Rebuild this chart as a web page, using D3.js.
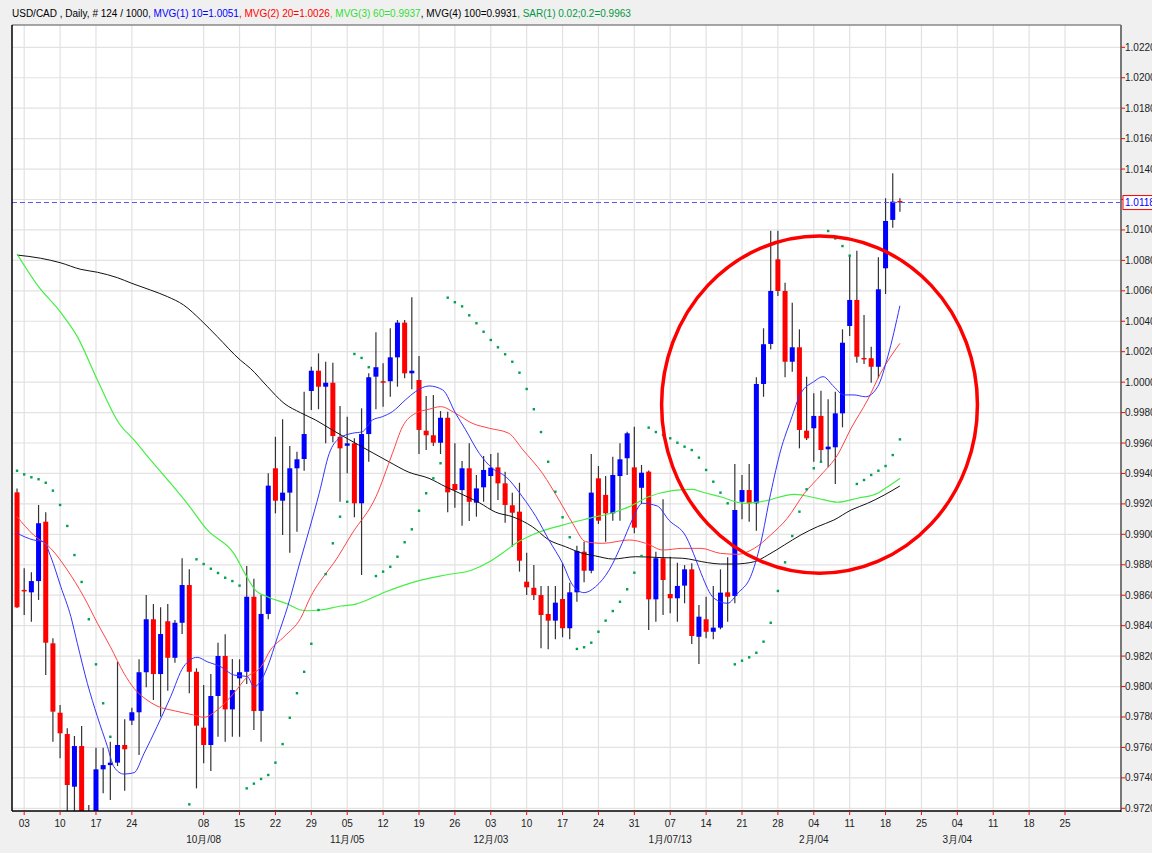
<!DOCTYPE html>
<html>
<head>
<meta charset="utf-8">
<script src="https://cdn.jsdelivr.net/npm/d3@7"></script>
<style>
body { margin: 0; background: #f0f0f0; }
svg { display: block; font-family: Arial, "Liberation Sans", sans-serif; }
</style>
</head>
<body>
<svg id="chart" width="1152" height="853"></svg>
<script>
// USD/CAD daily candles, 31 Aug 2012 .. 20 Feb 2013 (trading days)
const opens = [.99276,.98635,.98619,.98693,.99083,.98284,.97828,.97688,.97342,.97609,
  .9690,.9662,.97456,.97484,.97500,.97616,.97776,.97831,.98094,.98442,
  .98082,.98429,.98189,.98419,.98667,.98097,.97730,.97616,.97938,.98201,
  .97850,.98054,.98097,.98590,.97840,.98477,.99434,.99221,.99274,.99434,
  .99495,.99942,1.00075,.99970,.99996,.99641,.99582,.99598,.99204,.99659,
  1.00036,1.00006,1.00006,1.00163,1.00391,1.00058,1.00014,.99681,.99651,.99602,
  .99766,.99331,.99291,.99434,.99208,.99309,.99383,.99440,.99335,.99191,
  .99149,.98689,.98649,.98601,.98477,.98433,.98575,.98383,.98619,.98886,
  .98761,.99368,.99259,.99138,.99383,.99500,.99440,.99306,.99412,.98573,
  .98843,.98608,.98580,.98663,.98770,.98327,.98442,.98360,.98387,.98619,
  .98595,.99214,.99291,.99204,.99988,1.00251,1.00807,1.00599,1.00134,1.00229,
  .99681,.99697,.99778,.99559,.99572,.99795,1.00369,1.00540,1.00159,1.00157,
  1.00101,1.00748,1.01066,1.0119];
const highs = [.99302,.98777,.98751,.99193,.99145,.98317,.97879,.97726,.97675,.97741,
  .97222,.97598,.97598,.97638,.98163,.97785,.97861,.98179,.98601,.98542,
  .98521,.98542,.98437,.98843,.98770,.98120,.98010,.98082,.98288,.98343,
  .98181,.98179,.98792,.98709,.98601,.99401,.99641,.99756,.99580,.99543,
  .99937,1.00101,1.00189,1.00134,1.00128,.99843,.99773,.99631,.99828,1.00058,
  1.00327,1.00124,1.00354,1.00408,1.00408,1.00557,1.00172,.99909,.99915,.99810,
  .99806,.99598,.99482,.99598,.99390,.99515,.99528,.99536,.99412,.99274,
  .99339,.98879,.98799,.98661,.98661,.98661,.98810,.98682,.98925,.98952,
  .99528,.99449,.99383,.99510,.99598,.99674,.99707,.99456,.99420,.98886,
  .99230,.98853,.98814,.98798,.98810,.98536,.98590,.98661,.98770,.98849,
  .99462,.99390,.99462,1.00032,1.00354,1.00995,1.00995,1.00653,1.00522,1.00347,
  1.00036,.99927,.99944,.99887,.99937,1.00347,1.00835,1.00864,1.00441,1.00233,
  1.00820,1.01208,1.01372,1.01208];
const lows = [.98516,.98470,.98426,.98569,.98076,.97638,.97529,.97180,.97120,.96800,
  .96330,.96500,.97299,.97255,.97478,.97316,.97747,.97550,.97995,.97912,
  .97802,.97973,.98157,.98345,.97956,.97331,.97496,.97445,.97670,.97638,
  .97670,.97670,.98017,.97714,.97638,.98442,.99138,.98996,.98879,.99017,
  .99418,.99817,.99822,.99598,.99605,.99214,.99401,.99112,.98733,.99477,
  .99822,.99839,.99904,.99970,1.00025,.99953,.99528,.99554,.99580,.99528,
  .99145,.99175,.99057,.99088,.99116,.99214,.99160,.99226,.99076,.98919,
  .98755,.98601,.98569,.98251,.98245,.98310,.98324,.98310,.98557,.98685,
  .98744,.99068,.98952,.99090,.99090,.99390,.99007,.99204,.98371,.98426,
  .98470,.98481,.98426,.98547,.98280,.98148,.98317,.98310,.98376,.98426,
  .98547,.99099,.99083,.99024,.99904,1.00216,1.00566,1.00032,1.00069,.99565,
  .99620,.99477,.99477,.99440,.99331,.99703,1.00303,1.00128,1.00119,.99996,
  1.00025,1.00579,1.01015,1.01120];
const closes = [.98521,.98625,.98693,.99073,.98288,.97835,.97693,.97353,.97609,.96900,
  .96620,.97456,.97484,.97500,.97616,.97588,.97831,.98094,.98442,.98082,
  .98345,.98189,.98419,.98667,.98097,.97743,.97616,.97938,.98201,.97850,
  .97977,.98094,.98590,.97839,.98477,.99320,.99221,.99274,.99434,.99493,
  .99659,1.00075,.99970,.99996,.99646,.99565,.99598,.99204,.99659,1.00032,
  1.00098,1.00003,1.00163,1.00391,1.00058,1.00075,.99686,.99651,.99602,.99766,
  .99276,.99291,.99434,.99214,.99302,.99423,.99438,.99335,.99193,.99142,
  .98827,.98652,.98601,.98470,.98433,.98551,.98383,.98619,.98891,.98761,
  .99274,.99090,.99138,.99390,.99493,.99664,.99044,.99405,.98573,.98843,
  .98700,.98580,.98661,.98770,.98332,.98459,.98360,.98387,.98617,.98590,
  .99160,.99291,.99204,.99988,1.00249,1.00599,1.00599,1.00134,1.00229,.99686,
  .99631,.99778,.99554,.99576,.99795,1.00259,1.00540,1.00167,1.00154,1.00101,
  1.00610,1.01059,1.01186,1.0118];

// parabolic SAR(0.02, 0.2), one dot per bar
const sar = [.99418,.99394,.99375,.99362,.99339,.99287,.99193,.99055,.98864,.98687,
  .98442,.98146,.97890,.97670,.9633,.9635,.9638,.9642,.9647,.9654,
  .9662,.9672,.9684,.9700,.97226,.98836,.98805,.98774,.98746,.98715,
  .98693,.98663,.97331,.97362,.97393,.97419,.97500,.97622,.97795,.97956,
  .98097,.98281,.98503,.98739,.98941,.99116,.99214,1.00185,1.00159,1.00098,
  .98726,.98755,.98787,.98853,.98948,.99033,.99155,.99270,.99368,.99467,
  1.00555,1.00525,1.00498,1.00439,1.00387,1.00331,1.00277,1.00229,1.00183,1.00134,
  1.00062,.99955,.99822,.99672,.99477,.99280,.99112,.98981,.98247,.98258,
  .98288,.98360,.98433,.98496,.98557,.98639,.98748,.98858,.99701,.99672,
  .99653,.99631,.99602,.99576,.99554,.99504,.99423,.99346,.99274,.99204,
  .98146,.98170,.98192,.98222,.98295,.98419,.98628,.98816,.98989,.99149,
  .99296,.99434,.99477,1.00993,1.00944,1.00894,1.00831,.99331,.99357,.99390,
  .99418,.99449,.99521,.99624];

// moving averages: [bar index, value]
const ma10 = [[0,.99007],[2.3,.98963],[3.7,.98952],[4.7,.98853],[6.1,.98656],[7.5,.98459],[8.4,.98284],[9.8,.98021],
  [11.2,.97802],[12.6,.97605],[13.5,.97473],[14.9,.97425],[16.3,.97434],[17.7,.97561],[19.5,.97736],[21.4,.97933],
  [23.2,.98130],[25.1,.98192],[26.5,.98163],[28.4,.98130],[30.2,.98076],[32.1,.98065],[33,.97999],[33.9,.98032],
  [34.9,.98130],[36.3,.98327],[37.7,.98525],[39.5,.98831],[40.7,.99029],[42.1,.99270],[43.5,.99532],[44.9,.99631],
  [46.7,.99664],[48.1,.99674],[49.5,.99751],[50.9,.99773],[52.3,.99806],[54.1,.99883],[55.5,.99937],[57.4,.99975],
  [59.3,.99949],[61.1,.99795],[62.5,.99686],[64.4,.99532],[66.2,.99434],[68.1,.99379],[70.4,.99247],[72.3,.99116],
  [74.1,.98963],[76,.98810],[77.4,.98667],[79,.98617],[80.6,.98656],[82.5,.98766],[84.3,.98941],[85.7,.99094],
  [87.1,.99204],[89.2,.99186],[90.8,.99094],[93.2,.98985],[94.6,.98831],[95.3,.98744],[97.1,.98580],[99,.98547],
  [100.4,.98613],[102.2,.98722],[103.6,.98941],[105,.99270],[106.4,.99554],[107.8,.99751],[109.2,.99927],[111,1.00003],
  [112.3,1.00036],[113.8,.99970],[115.2,.99916],[116.6,.99916],[118.2,.99904],[119.9,.99970],[121.3,1.00167],[123,1.00502]];
const ma20 = [[0,.99116],[2.3,.98996],[4.7,.98908],[7,.98766],[9.3,.98590],[11.2,.98416],[13,.98262],[14.9,.98087],
  [16.3,.97988],[18.1,.97912],[19.5,.97872],[21.9,.97841],[24.6,.97813],[26,.97798],[27.9,.97846],[30.2,.97956],
  [32.1,.98065],[34,.98130],[35.3,.98240],[37.2,.98327],[39.5,.98448],[40.9,.98590],[43.4,.98766],[44.1,.98810],
  [46.7,.99007],[50,.99247],[52.3,.99532],[53.7,.99707],[55.5,.99795],[57.4,.99822],[59,.99839],[61.1,.99795],
  [63.4,.99730],[65.8,.99697],[68.5,.99664],[70.5,.99554],[73.2,.99401],[75.5,.99226],[77.4,.99073],[79.2,.98952],
  [81.6,.98941],[85.3,.98963],[87.6,.98941],[90,.98897],[92.7,.98908],[95.3,.98908],[98,.98875],[100.4,.98869],
  [102.7,.98908],[105,.98996],[107.3,.99105],[109.7,.99270],[112,.99390],[114.3,.99521],[116.2,.99697],[118.5,.99883],
  [120.3,1.00058],[123,1.00255]];
const ma60 = [[0,1.00842],[3,1.00627],[6,1.00463],[8.4,1.00299],[11.2,1.00014],[14.2,.99730],[16.3,.99620],[18.6,.99489],
  [21,.99357],[23.7,.99204],[26.5,.99029],[30.2,.98875],[32,.98722],[33.2,.98634],[34.9,.98590],[37.7,.98542],
  [39.5,.98503],[40.5,.98498],[42.3,.98503],[45.1,.98529],[47.2,.98542],[51.4,.98623],[55.5,.98689],[59.7,.98733],
  [63.4,.98766],[65.8,.98820],[68.1,.98893],[69.5,.98941],[72.3,.99007],[76,.99061],[79.7,.99105],[83,.99142],
  [85.3,.99182],[88,.99247],[91.3,.99287],[94.1,.99296],[95.3,.99280],[98,.99247],[101.3,.99204],[103.6,.99214],
  [108.3,.99263],[111.5,.99237],[114.3,.99211],[117.1,.99237],[119.9,.99270],[121.3,.99313],[123,.99368]];
const ma100 = [[0,1.00835],[3.3,1.00814],[6,1.00785],[8.9,1.00741],[11.2,1.00722],[14,1.00686],[16,1.00649],[18.6,1.00605],
  [21,1.00561],[23.2,1.00507],[25.6,1.00408],[27.9,1.00299],[31.1,1.00145],[32.5,1.00091],[34.9,.99970],[37.2,.99861],
  [39.5,.99799],[41.6,.99751],[43.9,.99686],[46.2,.99624],[49,.99550],[51.8,.99477],[54.6,.99408],[57.4,.99368],
  [59.7,.99313],[62,.99263],[64.4,.99208],[66.7,.99145],[69,.99116],[71.8,.99050],[74.1,.98963],[76.4,.98919],
  [78.8,.98875],[80.6,.98858],[83,.98838],[86.2,.98853],[89.9,.98847],[92.7,.98843],[96.2,.98814],[98,.98805],
  [99.9,.98805],[102.7,.98820],[104.6,.98864],[106.9,.98930],[109.2,.98996],[111.5,.99050],[113.8,.99094],[116.2,.99160],
  [118.5,.99204],[120.8,.99258],[123,.99318]];

// weekly (Monday) labels, first Monday is bar 1; "" = no tick
const weekLabels = ["03","10","17","24","","08","15","22","29","05","12","19","26","03","10","17","24","31",
  "07","14","21","28","04","11","18","25","04","11","18","25"];
const monthLabels = [[5,"10月/08"],[9,"11月/05"],[13,"12月/03"],[18,"1月/07/13"],[22,"2月/04"],[26,"3月/04"]];
const priceTicks = d3.range(0, 26).map(k => 0.972 + k * 0.002);
const lastPrice = 1.0118;
const circleNote = { i: 111.8, p: 0.99852, ri: 22.0, rp: 0.01108 };

const titleParts = [
  ["USD/CAD , Daily, # 124 / 1000", "#000"],
  [", MVG(1) 10=1.0051", "#0000ff"],
  [", MVG(2) 20=1.0026", "#ff0000"],
  [", MVG(3) 60=0.9937", "#33dd33"],
  [", MVG(4) 100=0.9931", "#000"],
  [", SAR(1) 0.02;0.2=0.9963", "#009944"]
];

const L = 12, R = 1121, T = 25, B = 811;
const svg = d3.select("#chart");

const x = d3.scaleLinear().domain([-0.7, 153.8]).range([L, R]);
const y = d3.scaleLinear().domain([0.971823, 1.023465]).range([B, T]);

svg.append("rect").attr("x", L).attr("y", T).attr("width", R - L).attr("height", B - T).attr("fill", "#fff");

svg.append("defs").append("clipPath").attr("id", "plot")
  .append("rect").attr("x", L).attr("y", T).attr("width", R - L).attr("height", B - T);

// grid
const weeks = weekLabels.map((lab, k) => ({ i: 1 + 5 * k, lab: lab })).filter(d => d.lab !== "");
const grid = svg.append("g").attr("stroke", "#e2e2e2").attr("stroke-width", 1.2);
grid.selectAll(".h").data(priceTicks).enter().append("line")
  .attr("x1", L).attr("x2", R).attr("y1", d => y(d)).attr("y2", d => y(d));
grid.selectAll(".v").data(weeks).enter().append("line")
  .attr("x1", d => x(d.i)).attr("x2", d => x(d.i)).attr("y1", T).attr("y2", B);

const plot = svg.append("g").attr("clip-path", "url(#plot)");

// candles
const bars = d3.range(opens.length).map(i => ({ i, o: opens[i], h: highs[i], l: lows[i], c: closes[i] }));
plot.append("g").selectAll("line").data(bars).enter().append("line")
  .attr("x1", d => x(d.i)).attr("x2", d => x(d.i))
  .attr("y1", d => y(d.h)).attr("y2", d => y(d.l))
  .attr("stroke", "#333").attr("stroke-width", 1.2);
plot.append("g").selectAll("rect").data(bars).enter().append("rect")
  .attr("x", d => x(d.i) - 2.5).attr("width", 5)
  .attr("y", d => y(Math.max(d.o, d.c)))
  .attr("height", d => Math.max(1.5, Math.abs(y(d.o) - y(d.c))))
  .attr("fill", d => d.c >= d.o ? "#0000ff" : "#ff0000");

// moving averages
const line = d3.line().x(d => x(d[0])).y(d => y(d[1])).curve(d3.curveMonotoneX);
[[ma100, "#111", 1], [ma60, "#44ee44", 1.2], [ma20, "#ff4444", 1], [ma10, "#3333ff", 1]].forEach(s => {
  plot.append("path").datum(s[0]).attr("d", line)
    .attr("fill", "none").attr("stroke", s[1]).attr("stroke-width", s[2]);
});

// SAR dots
plot.append("g").selectAll("rect").data(sar).enter().append("rect")
  .attr("x", (d, i) => x(i) - 1.2).attr("y", d => y(d) - 1.2)
  .attr("width", 2.4).attr("height", 2.4).attr("fill", "#00a050");

// last price
plot.append("line").attr("x1", L).attr("x2", R).attr("y1", y(lastPrice)).attr("y2", y(lastPrice))
  .attr("stroke", "#5555ff").attr("stroke-width", 1).attr("stroke-dasharray", "5,3");

// annotation circle
plot.append("ellipse")
  .attr("cx", x(circleNote.i)).attr("cy", y(circleNote.p))
  .attr("rx", x(circleNote.i + circleNote.ri) - x(circleNote.i))
  .attr("ry", y(circleNote.p - circleNote.rp) - y(circleNote.p))
  .attr("fill", "none").attr("stroke", "#ff0000").attr("stroke-width", 3.5);

// frame
svg.append("line").attr("x1", L).attr("x2", R).attr("y1", T).attr("y2", T).attr("stroke", "#888").attr("stroke-width", 1.5);
svg.append("line").attr("x1", R).attr("x2", R).attr("y1", T).attr("y2", B + 1).attr("stroke", "#777").attr("stroke-width", 2);
svg.append("line").attr("x1", L).attr("x2", L).attr("y1", T).attr("y2", B).attr("stroke", "#000").attr("stroke-width", 1.5);
svg.append("line").attr("x1", L).attr("x2", R).attr("y1", B).attr("y2", B).attr("stroke", "#000").attr("stroke-width", 1.5);

// right price axis (the tick label under the last-price box is covered)
const ya = svg.append("g").attr("font-size", 10).attr("fill", "#222");
ya.selectAll("line").data(priceTicks).enter().append("line")
  .attr("x1", R).attr("x2", R + 4).attr("y1", d => y(d)).attr("y2", d => y(d))
  .attr("stroke", "#ff0000").attr("stroke-width", 1);
ya.selectAll("text").data(priceTicks.filter(d => Math.abs(y(d) - y(lastPrice)) > 12)).enter().append("text")
  .attr("x", R + 4).attr("y", d => y(d) + 3.5).text(d => d.toFixed(4));
ya.append("rect").attr("x", R + 2).attr("y", y(lastPrice) - 7).attr("width", 40).attr("height", 14)
  .attr("fill", "#fff").attr("stroke", "#ff0000").attr("stroke-width", 1);
ya.append("text").attr("x", R + 4).attr("y", y(lastPrice) + 3.5).attr("fill", "#0000ff").text(lastPrice.toFixed(4));

// bottom date axis
const xa = svg.append("g").attr("font-size", 10).attr("fill", "#222").attr("text-anchor", "middle");
xa.selectAll("line").data(weeks).enter().append("line")
  .attr("x1", d => x(d.i)).attr("x2", d => x(d.i)).attr("y1", B).attr("y2", B + 4)
  .attr("stroke", "#ff0000").attr("stroke-width", 1);
xa.selectAll(".d").data(weeks).enter().append("text")
  .attr("x", d => x(d.i)).attr("y", B + 16).text(d => d.lab);
xa.selectAll(".m").data(monthLabels).enter().append("text")
  .attr("x", d => x(1 + 5 * d[0])).attr("y", B + 32).text(d => d[1]);

// title
const title = svg.append("text").attr("x", L).attr("y", 17).attr("font-size", 10);
titleParts.forEach(p => title.append("tspan").attr("fill", p[1]).text(p[0]));
</script>
</body>
</html>
